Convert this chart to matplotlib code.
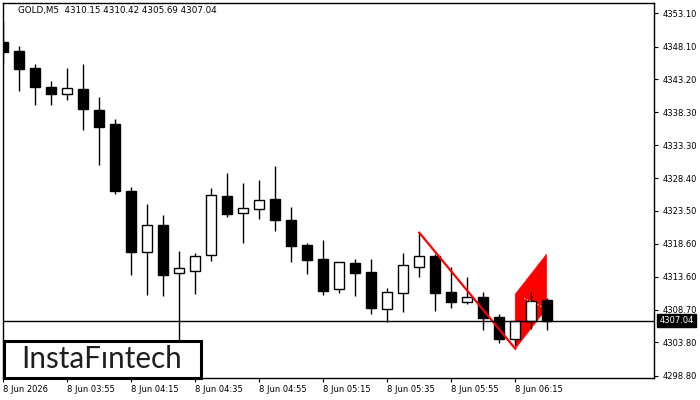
import numpy as np
import matplotlib.pyplot as plt
from matplotlib.patches import Rectangle, Polygon
from matplotlib.transforms import blended_transform_factory

# GOLD M5, 8 Jun 03:35 .. 06:25
opens = [4348.80, 4347.45, 4344.90, 4342.06, 4341.05, 4341.76, 4338.61, 4336.51, 4326.47, 4317.29,
         4321.33, 4314.14, 4314.53, 4316.84, 4325.72, 4323.13, 4323.82, 4325.27, 4322.13, 4318.38,
         4316.28, 4311.74, 4315.68, 4314.34, 4308.84, 4311.15, 4315.13, 4316.73, 4311.38, 4309.89,
         4310.59, 4307.59, 4304.25, 4306.95, 4310.15]
highs = [4351.95, 4348.20, 4345.50, 4342.96, 4344.95, 4345.50, 4340.56, 4337.26, 4327.03, 4324.53,
         4322.88, 4317.53, 4317.18, 4326.92, 4329.17, 4327.67, 4328.12, 4330.22, 4324.08, 4318.68,
         4319.13, 4315.85, 4316.28, 4316.28, 4311.94, 4317.18, 4320.23, 4317.03, 4315.13, 4313.59,
         4311.38, 4308.04, 4306.99, 4311.38, 4310.42]
lows = [4345.61, 4341.46, 4339.36, 4339.36, 4340.15, 4335.61, 4330.37, 4326.02, 4313.89, 4310.89,
        4310.79, 4300.50, 4311.04, 4316.03, 4322.58, 4318.73, 4322.28, 4320.52, 4315.88, 4314.08,
        4310.89, 4311.24, 4310.79, 4308.09, 4306.80, 4308.39, 4313.63, 4308.54, 4308.99, 4309.50,
        4305.65, 4303.65, 4303.40, 4305.80, 4305.69]
closes = [4347.35, 4344.80, 4342.10, 4341.01, 4341.91, 4338.76, 4336.11, 4326.52, 4317.38, 4321.33,
          4313.93, 4314.89, 4316.69, 4325.87, 4323.07, 4323.88, 4325.08, 4322.17, 4318.28, 4316.18,
          4311.53, 4315.79, 4314.23, 4308.99, 4311.34, 4315.39, 4316.69, 4311.24, 4309.89, 4310.54,
          4307.49, 4304.25, 4306.99, 4309.95, 4307.04]

xtick_idx = [0, 4, 8, 12, 16, 20, 24, 28, 32]
xtick_labels = ["8 Jun 2026", "8 Jun 03:55", "8 Jun 04:15", "8 Jun 04:35", "8 Jun 04:55",
                "8 Jun 05:15", "8 Jun 05:35", "8 Jun 05:55", "8 Jun 06:15"]
ytick_vals = [4353.10, 4348.10, 4343.20, 4338.30, 4333.30, 4328.40,
              4323.50, 4318.60, 4313.60, 4308.70, 4303.80, 4298.80]

last_price = 4307.04

# bearish flag: pole and flag corners
pole_x = [26, 32]
pole_y = [4320.23, 4302.84]
flag_x = [32, 33.95, 33.95, 32]
flag_y = [4311.00, 4316.99, 4308.84, 4302.84]

plt.rcParams['font.family'] = ['DejaVu Sans']

fig = plt.figure(figsize=(7, 4), dpi=100)
ax = fig.add_axes([3/700, 22/400, 651/700, 375/400])

x = np.arange(len(opens))
o = np.array(opens)
c = np.array(closes)

ax.vlines(x, lows, highs, color="black", linewidth=1, zorder=2)
bull = c >= o
ax.bar(x, np.abs(c - o), bottom=np.minimum(o, c), width=0.64,
       color=np.where(bull, "white", "black"), edgecolor="black", linewidth=1, zorder=3)

ax.add_patch(Polygon(list(zip(flag_x, flag_y)), closed=True, facecolor="red", edgecolor="red",
                     linewidth=0.5, zorder=1))
ax.plot(pole_x, pole_y, color="red", linewidth=1.6, zorder=4)
ax.plot([32.56, 33.65], [4310.40, 4309.14], color="white", linewidth=0.8, linestyle=":", zorder=4)

ax.axhline(last_price, color="black", linewidth=1, zorder=5)

ax.set_xlim(-0.02, 40.67)
ax.set_ylim(4298.45, 4354.64)

ax.yaxis.tick_right()
ax.set_yticks(ytick_vals)
ax.set_yticklabels([f"{v:.2f}" for v in ytick_vals])
ax.set_xticks(xtick_idx)
ax.set_xticklabels(xtick_labels, ha="left")
ax.tick_params(axis="both", labelsize=6, length=3, width=0.8, color="black", pad=2)
ax.tick_params(axis="y", pad=3)
for s in ax.spines.values():
    s.set_linewidth(1)

trans = blended_transform_factory(ax.transAxes, ax.transData)
ax.text(1.008, last_price, "4307.04", transform=trans, fontsize=6, color="white",
        va="center", ha="left", zorder=10,
        bbox=dict(boxstyle="square,pad=0.25", facecolor="black", edgecolor="black"))

fig.text(18/700, 1 - 10.7/400, "GOLD,M5  4310.15 4310.42 4305.69 4307.04",
         fontsize=6.3, color="black", va="center", ha="left")

# logo box
fig.patches.append(Rectangle((3.5/700, 22/400), 197/700, 37/400, transform=fig.transFigure,
                             facecolor="white", edgecolor="black", linewidth=2.2, zorder=20))
fig.text(102/700, 1 - 359/400, "InstaFıntech", fontsize=21.3, color="#1e1e1e",
         family=["Lato", "DejaVu Sans"], ha="center", va="center", zorder=21)

fig.savefig("out.png", dpi=100)
